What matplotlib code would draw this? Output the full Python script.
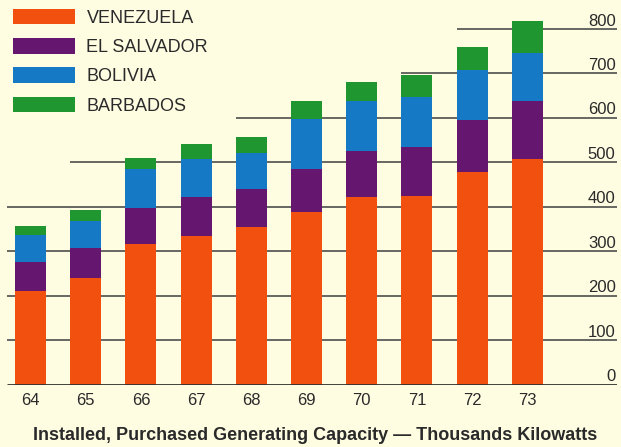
import matplotlib
matplotlib.use("Agg")
import matplotlib.pyplot as plt
from matplotlib.patches import Patch
import numpy as np

# Installed, purchased generating capacity (thousands of kW)
years = ["64", "65", "66", "67", "68", "69", "70", "71", "72", "73"]
venezuela = [211, 239, 316, 334, 354, 388, 423, 425, 478, 507]
el_salvador = [66, 69, 81, 88, 86, 97, 103, 109, 118, 130]
bolivia = [60, 61, 89, 85, 81, 113, 111, 112, 112, 110]
barbados = [21, 23, 23, 34, 36, 41, 43, 50, 51, 70]
series_names = ["VENEZUELA", "EL SALVADOR", "BOLIVIA", "BARBADOS"]
y_ticks = [0, 100, 200, 300, 400, 500, 600, 700, 800]

BG = "#FEFCE1"
COLORS = ["#F2500E", "#65166F", "#1679C6", "#1F9630"]
INK = "#2A2A2A"
GRID = "#4E4E4E"

plt.rcParams["font.family"] = ["Liberation Sans", "DejaVu Sans"]

W, H, DPI = 621, 447, 100
fig = plt.figure(figsize=(W / DPI, H / DPI), dpi=DPI, facecolor=BG)

# axes span (pixels): x 7..617, baseline at y=384.7 from top
left_px, right_px = 7, 617
base_px, top_px = 384.7, 5
ax = fig.add_axes([left_px / W, (H - base_px) / H,
                   (right_px - left_px) / W, (base_px - top_px) / H])
ax.set_facecolor(BG)

x = np.arange(len(years))
bar_w = 0.56
xmin, xmax = -0.426, 10.625
ax.set_xlim(xmin, xmax)
ax.set_ylim(0, 854)

# horizontal rules; the upper ones start further right to leave room for the key
rule_start = {500: 1 - bar_w / 2, 600: 4 - bar_w / 2,
              700: 7 - bar_w / 2, 800: 8 - bar_w / 2}
for v in y_ticks[1:]:
    ax.hlines(v, rule_start.get(v, xmin), xmax, color=GRID, lw=1.2, zorder=1)
ax.hlines(0, xmin, xmax, color="#303030", lw=2.0, zorder=4)

# stacked bars
bottom = np.zeros(len(years))
for vals, col in zip([venezuela, el_salvador, bolivia, barbados], COLORS):
    ax.bar(x, vals, bar_w, bottom=bottom, color=col, zorder=2, linewidth=0)
    bottom += np.array(vals)

# value scale written on the right, just above each rule
for v in y_ticks:
    ax.annotate(str(v), xy=(xmax, v), xytext=(-1, 2.5), textcoords="offset points",
                ha="right", va="baseline", fontsize=12, color=INK)

ax.set_xticks(x)
ax.set_xticklabels(years, fontsize=12, color=INK)
ax.tick_params(axis="x", length=0, pad=6)
ax.set_yticks([])
for s in ax.spines.values():
    s.set_visible(False)

handles = [Patch(facecolor=c, edgecolor="none") for c in COLORS]
leg = fig.legend(handles, series_names, loc="upper left",
                 bbox_to_anchor=(13 / W, 1 - 8.5 / H), frameon=False,
                 fontsize=13, handlelength=3.45, handleheight=0.98,
                 labelspacing=0.62, handletextpad=0.62, borderpad=0,
                 borderaxespad=0)
for t in leg.get_texts():
    t.set_color(INK)

fig.text(315 / W, 1 - 436 / H,
         "Installed, Purchased Generating Capacity \u2014 Thousands Kilowatts",
         ha="center", va="center", fontsize=13, fontweight="bold", color=INK)

fig.savefig("out.png", dpi=DPI, facecolor=BG)
